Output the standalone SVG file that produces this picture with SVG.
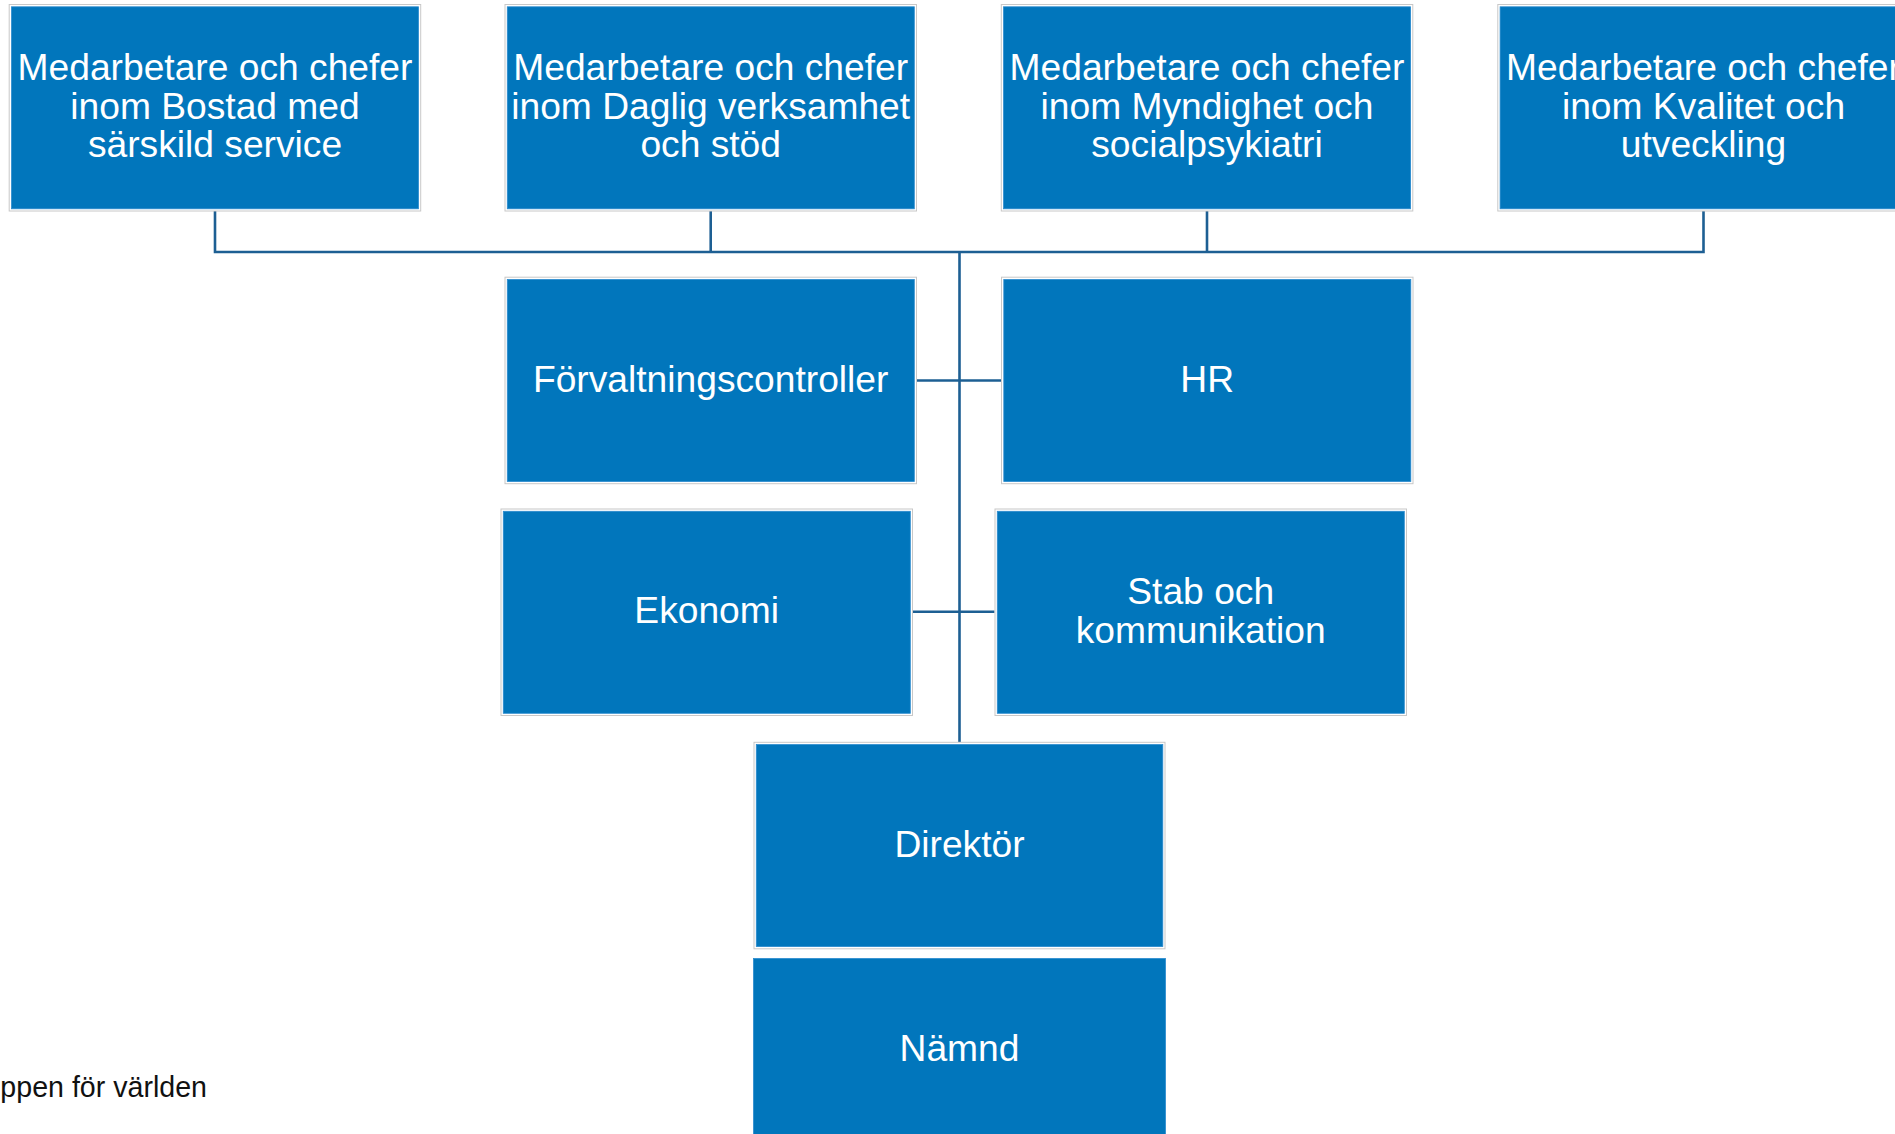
<svg xmlns="http://www.w3.org/2000/svg" width="1895" height="1134" viewBox="0 0 1895 1134">
<style>
.fr{fill:#ffffff;stroke:#c8c8c8;stroke-width:1}
.bx{fill:#0176bc;stroke:#2a8bcf;stroke-width:0.8}
.lb{font-family:"Liberation Sans",Arial,sans-serif;font-size:37.2px;fill:#ffffff;text-anchor:middle}
.cn{fill:none;stroke:#1d5f93;stroke-width:2.6}
.ft{font-family:"Liberation Sans",Arial,sans-serif;font-size:28.6px;fill:#111111;text-anchor:end}
</style>
<rect width="1895" height="1134" fill="#ffffff"/>
<g id="connectors">
<polyline class="cn" points="215,211 215,252 1703.5,252 1703.5,211"/>
<line class="cn" x1="710.7" y1="211" x2="710.7" y2="252"/>
<line class="cn" x1="1207" y1="211" x2="1207" y2="252"/>
<line class="cn" x1="959.5" y1="252" x2="959.5" y2="742"/>
<line class="cn" x1="917" y1="380.5" x2="1001" y2="380.5"/>
<line class="cn" x1="913" y1="611.8" x2="994.5" y2="611.8"/>
</g>
<g id="n-bostad">
<rect class="fr" x="9.2" y="4.5" width="411.5" height="206.5"/>
<rect class="bx" x="11.5" y="6.8" width="407" height="202"/>
<text class="lb" x="215" y="80.2">Medarbetare och chefer</text>
<text class="lb" x="215" y="118.5">inom Bostad med</text>
<text class="lb" x="215" y="156.8">särskild service</text>
</g>
<g id="n-daglig">
<rect class="fr" x="505" y="4.5" width="411.5" height="206.5"/>
<rect class="bx" x="507.3" y="6.8" width="407" height="202"/>
<text class="lb" x="710.7" y="80.2">Medarbetare och chefer</text>
<text class="lb" x="710.7" y="118.5">inom Daglig verksamhet</text>
<text class="lb" x="710.7" y="156.8">och stöd</text>
</g>
<g id="n-myndighet">
<rect class="fr" x="1001.3" y="4.5" width="411.5" height="206.5"/>
<rect class="bx" x="1003.6" y="6.8" width="407" height="202"/>
<text class="lb" x="1207" y="80.2">Medarbetare och chefer</text>
<text class="lb" x="1207" y="118.5">inom Myndighet och</text>
<text class="lb" x="1207" y="156.8">socialpsykiatri</text>
</g>
<g id="n-kvalitet">
<rect class="fr" x="1497.8" y="4.5" width="411.5" height="206.5"/>
<rect class="bx" x="1500.1" y="6.8" width="407" height="202"/>
<text class="lb" x="1703.5" y="80.2">Medarbetare och chefer</text>
<text class="lb" x="1703.5" y="118.5">inom Kvalitet och</text>
<text class="lb" x="1703.5" y="156.8">utveckling</text>
</g>
<g id="n-forvaltningscontroller">
<rect class="fr" x="505" y="277.2" width="411.5" height="206.5"/>
<rect class="bx" x="507.3" y="279.5" width="407" height="202"/>
<text class="lb" x="710.7" y="391.8">Förvaltningscontroller</text>
</g>
<g id="n-hr">
<rect class="fr" x="1001.5" y="277.2" width="411.5" height="206.5"/>
<rect class="bx" x="1003.8" y="279.5" width="407" height="202"/>
<text class="lb" x="1207.2" y="391.8">HR</text>
</g>
<g id="n-ekonomi">
<rect class="fr" x="501" y="509" width="411.5" height="206.5"/>
<rect class="bx" x="503.3" y="511.3" width="407" height="202"/>
<text class="lb" x="706.7" y="623.3">Ekonomi</text>
</g>
<g id="n-stab">
<rect class="fr" x="995" y="509" width="411.5" height="206.5"/>
<rect class="bx" x="997.3" y="511.3" width="407" height="202"/>
<text class="lb" x="1200.7" y="604.2">Stab och</text>
<text class="lb" x="1200.7" y="642.5">kommunikation</text>
</g>
<g id="n-direktor">
<rect class="fr" x="754" y="742.3" width="411" height="206.5"/>
<rect class="bx" x="756.3" y="744.6" width="406.5" height="202"/>
<text class="lb" x="959.5" y="856.7">Direktör</text>
</g>
<g id="n-namnd">
<rect class="bx" x="753.5" y="958.5" width="412" height="190"/>
<text class="lb" x="959.5" y="1060.7">Nämnd</text>
</g>
<g id="footer">
<text class="ft" x="207" y="1097.3">ppen för världen</text>
</g>
</svg>
